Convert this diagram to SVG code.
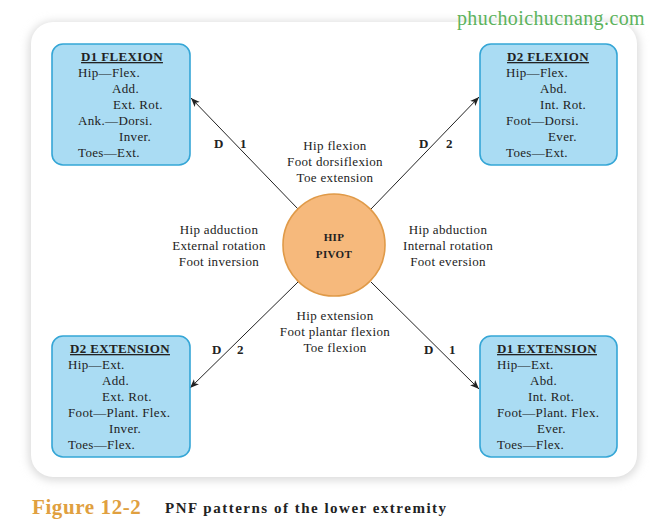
<svg xmlns="http://www.w3.org/2000/svg" width="657" height="519" viewBox="0 0 657 519">
<defs>
<filter id="sh" x="-10%" y="-10%" width="120%" height="120%"><feGaussianBlur stdDeviation="5"/></filter>
<marker id="ar" viewBox="0 0 10 10" refX="10" refY="5" markerWidth="9" markerHeight="9" markerUnits="userSpaceOnUse" orient="auto"><path d="M0,1 L10,5 L0,9 L2.5,5 Z" fill="#222"/></marker>
</defs>
<style>
text{font-family:"Liberation Serif","Times New Roman",serif;font-size:13px;fill:#222;letter-spacing:0.35px}
.box{fill:#aadcf3;stroke:#35a6d6;stroke-width:1.6}
.t{font-weight:bold;text-decoration:underline;text-anchor:middle}
.c{text-anchor:middle}
.b{font-weight:bold}
.ln{stroke:#222;stroke-width:1;fill:none;marker-end:url(#ar)}
</style>
<rect width="657" height="519" fill="#ffffff"/>
<rect x="29" y="22" width="610" height="458" rx="24" fill="#d8d8d8" filter="url(#sh)"/>
<rect x="31" y="22" width="606" height="455" rx="22" fill="#ffffff"/>
<text x="551" y="25" style="font-size:20px;fill:#5cb35c;letter-spacing:0.4px" text-anchor="middle">phuchoichucnang.com</text>

<g id="connectors">
<line class="ln" x1="298" y1="209" x2="191" y2="98"/>
<line class="ln" x1="371" y1="209" x2="479" y2="97"/>
<line class="ln" x1="298" y1="282" x2="190" y2="388"/>
<line class="ln" x1="371" y1="282" x2="479" y2="389"/>
<text x="214" y="148" class="b">D</text><text x="240" y="148" class="b">1</text>
<text x="419" y="148" class="b">D</text><text x="446" y="148" class="b">2</text>
<text x="212" y="354" class="b">D</text><text x="237" y="354" class="b">2</text>
<text x="424" y="354" class="b">D</text><text x="449" y="354" class="b">1</text>
</g>

<g id="pivot">
<circle cx="334" cy="245" r="51" fill="#f6b97c" stroke="#e09a48" stroke-width="1.6"/>
<text x="334" y="241" class="c b" style="font-size:11px">HIP</text>
<text x="334" y="258" class="c b" style="font-size:11px">PIVOT</text>
</g>

<g id="label-top">
<text x="335" y="150" class="c">Hip flexion</text>
<text x="335" y="166" class="c">Foot dorsiflexion</text>
<text x="335" y="182" class="c">Toe extension</text>
</g>
<g id="label-left">
<text x="219" y="234" class="c">Hip adduction</text>
<text x="219" y="250" class="c">External rotation</text>
<text x="219" y="266" class="c">Foot inversion</text>
</g>
<g id="label-right">
<text x="448" y="234" class="c">Hip abduction</text>
<text x="448" y="250" class="c">Internal rotation</text>
<text x="448" y="266" class="c">Foot eversion</text>
</g>
<g id="label-bottom">
<text x="335" y="320" class="c">Hip extension</text>
<text x="335" y="336" class="c">Foot plantar flexion</text>
<text x="335" y="352" class="c">Toe flexion</text>
</g>

<g id="d1-flexion">
<rect class="box" x="52" y="44" width="138" height="121" rx="11"/>
<text x="122" y="61" class="t">D1 FLEXION</text>
<text x="78" y="77">Hip—Flex.</text>
<text x="112" y="93">Add.</text>
<text x="113" y="109">Ext. Rot.</text>
<text x="78" y="125">Ank.—Dorsi.</text>
<text x="119" y="141">Inver.</text>
<text x="78" y="157">Toes—Ext.</text>
</g>

<g id="d2-flexion">
<rect class="box" x="480" y="44" width="137" height="121" rx="11"/>
<text x="548" y="61" class="t">D2 FLEXION</text>
<text x="506" y="77">Hip—Flex.</text>
<text x="540" y="93">Abd.</text>
<text x="540" y="109">Int. Rot.</text>
<text x="506" y="125">Foot—Dorsi.</text>
<text x="548" y="141">Ever.</text>
<text x="506" y="157">Toes—Ext.</text>
</g>

<g id="d2-extension">
<rect class="box" x="52" y="336" width="138" height="121" rx="11"/>
<text x="120" y="353" class="t">D2 EXTENSION</text>
<text x="68" y="369">Hip—Ext.</text>
<text x="102" y="385">Add.</text>
<text x="102" y="401">Ext. Rot.</text>
<text x="68" y="417">Foot—Plant. Flex.</text>
<text x="109" y="433">Inver.</text>
<text x="68" y="449">Toes—Flex.</text>
</g>

<g id="d1-extension">
<rect class="box" x="480" y="336" width="137" height="121" rx="11"/>
<text x="547" y="353" class="t">D1 EXTENSION</text>
<text x="497" y="369">Hip—Ext.</text>
<text x="530" y="385">Abd.</text>
<text x="528" y="401">Int. Rot.</text>
<text x="497" y="417">Foot—Plant. Flex.</text>
<text x="537" y="433">Ever.</text>
<text x="497" y="449">Toes—Flex.</text>
</g>

<text x="32" y="514" style="font-size:21px;font-weight:bold;fill:#e0a040;letter-spacing:0.6px">Figure 12-2</text>
<text x="165" y="513" style="font-size:15px;font-weight:bold;letter-spacing:1.5px">PNF patterns of the lower extremity</text>
</svg>
